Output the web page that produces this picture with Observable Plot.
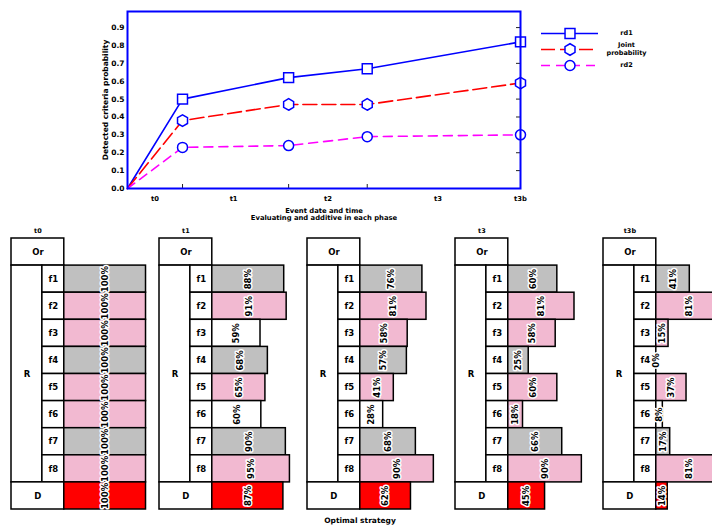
<!DOCTYPE html>
<html><head><meta charset="utf-8">
<script src="https://cdn.jsdelivr.net/npm/d3@7"></script>
<script src="https://cdn.jsdelivr.net/npm/@observablehq/plot@0.6"></script>
<style>
body{margin:0;background:#fff;overflow:hidden;font-family:"DejaVu Sans",sans-serif}
#wrap{position:relative;width:712px;height:530px;overflow:hidden;background:#fff}
#wrap>*{position:absolute}
#wrap>svg{max-width:none !important}
#caption{font:bold 7.5px "DejaVu Sans",sans-serif;left:0;width:720px;text-align:center;top:516px}
</style></head><body><div id="wrap"></div>
<script>
// ---------- top chart data ----------
const stepX   = [0, 14, 41, 61, 100];
const rd1     = [0, 0.50, 0.62, 0.67, 0.82];
const joint   = [0, 0.38, 0.47, 0.47, 0.59];
const rd2     = [0, 0.23, 0.24, 0.29, 0.30];
const seriesNames = ["rd1", "Joint\nprobability", "rd2"];
const xLabelPos = [7, 27, 51, 79, 100];
const xLabels   = ["t0", "t1", "t2", "t3", "t3b"];
const yTicks    = [0, 0.1, 0.2, 0.3, 0.4, 0.5, 0.6, 0.7, 0.8, 0.9];
const yTitle = "Detected criteria probability";
const xTitle = "Event date and time\nEvaluating and additive in each phase";

// ---------- bottom panels data ----------
const panels      = ["t0", "t1", "t2", "t3", "t3b"];
const panelTitles = ["t0", "t1", "", "t3", "t3b"];
const rows    = ["Or", "f1", "f2", "f3", "f4", "f5", "f6", "f7", "f8", "D"];
const barRows = ["f1", "f2", "f3", "f4", "f5", "f6", "f7", "f8", "D"];
const vals1 = [100, 100, 100, 100, 100, 100, 100, 100, 100];
const vals2 = [88, 91, 59, 68, 65, 60, 90, 95, 87];
const vals3 = [76, 81, 58, 57, 41, 28, 68, 90, 62];
const vals4 = [60, 81, 58, 25, 60, 18, 66, 90, 45];
const vals5 = [41, 81, 15, 0, 37, 8, 17, 81, 14];
const kind1 = ["g","p","p","g","p","p","g","p","d"];
const kind2 = ["g","p","w","g","p","w","g","p","d"];
const kind3 = ["g","p","p","g","p","w","g","p","d"];
const kind4 = ["g","p","p","g","p","p","g","p","d"];
const kind5 = ["g","p","p","g","p","w","g","p","d"];
const captionText = "Optimal strategy";

const wrap = document.getElementById("wrap");
const BLUE = "#0000ff";

// ---------- top chart ----------
const series = [
  {name: seriesNames[0], values: rd1,   stroke: BLUE,      dash: null,  symbol: "square",  r: 5.6},
  {name: seriesNames[1], values: joint, stroke: "#ff0000", dash: "14,5", symbol: "hexagon", r: 5},
  {name: seriesNames[2], values: rd2,   stroke: "#ff00ff", dash: "9,6",  symbol: "circle",  r: 5}
];
const pts = s => s.values.map((v, i) => ({x: stepX[i], v}));

const topChart = Plot.plot({
  width: 712, height: 225,
  marginLeft: 127, marginRight: 192, marginTop: 11, marginBottom: 37,
  x: {domain: [0, 100], axis: null},
  y: {domain: [0, 0.99], axis: null},
  style: {fontFamily: "DejaVu Sans", fontSize: "7px", fontWeight: "bold", background: "white"},
  marks: [
    Plot.axisY(yTicks, {anchor: "left", tickSize: 0, tickPadding: 3, tickFormat: d => d.toFixed(1),
      label: yTitle, labelAnchor: "center", labelOffset: 25, labelArrow: "none", fontSize: 7.5}),
    Plot.axisY(yTicks, {anchor: "right", tickSize: -5, tickFormat: () => "", label: null, stroke: "#222"}),
    Plot.axisX(stepX.slice(1, 4), {anchor: "bottom", tickSize: -4, tickFormat: () => "", label: null, stroke: "#222"}),
    Plot.axisX(xLabelPos, {anchor: "bottom", tickSize: 0, tickPadding: 8,
      tickFormat: d => xLabels[xLabelPos.indexOf(d)],
      label: xTitle, labelAnchor: "center", labelOffset: 31, labelArrow: "none", fontSize: 6.8}),
    ...series.map(s => Plot.line(pts(s), {x: "x", y: "v", stroke: s.stroke, strokeWidth: 1.6, strokeDasharray: s.dash})),
    ...series.map(s => Plot.dot(pts(s).filter(d => d.x > 0), {x: "x", y: "v", symbol: s.symbol, r: s.r,
      stroke: BLUE, fill: "white", strokeWidth: 1.5})),
    Plot.frame({stroke: BLUE, strokeWidth: 2})
  ]
});
topChart.style.left = "0px"; topChart.style.top = "0px";
wrap.appendChild(topChart);

// ---------- legend ----------
const legendChart = Plot.plot({
  width: 150, height: 60, marginLeft: 6, marginRight: 87, marginTop: 5, marginBottom: 5,
  x: {domain: [0, 1], axis: null},
  y: {type: "point", domain: seriesNames, range: [13, 45], padding: 0, axis: null},
  style: {fontFamily: "DejaVu Sans", fontSize: "6.5px", fontWeight: "bold", background: "transparent"},
  marks: [
    ...series.map(s => Plot.ruleY([s.name], {y: d => d, stroke: s.stroke, strokeWidth: 1.6, strokeDasharray: s.dash})),
    ...series.map(s => Plot.dot([s.name], {y: d => d, symbol: s.symbol, r: s.r, stroke: BLUE, fill: "white", strokeWidth: 1.5})),
    Plot.text(seriesNames, {y: d => d, text: d => d, frameAnchor: "right", dx: 28, dy: -1, textAnchor: "middle", lineHeight: 1.15})
  ]
});
legendChart.style.left = "535px"; legendChart.style.top = "20px";
wrap.appendChild(legendChart);

// ---------- bottom panels ----------
const allVals = [vals1, vals2, vals3, vals4, vals5];
const allKinds = [kind1, kind2, kind3, kind4, kind5];
const bars = [];
panels.forEach((p, k) => barRows.forEach((r, j) =>
  bars.push({panel: p, i: rows.indexOf(r), value: allVals[k][j], kind: allKinds[k][j]})));

// table-structure layout (in the x scale's % units)
const COL_L = -64.6, COL_F = -26.8;
const boxes = [
  {name: "Or", x1: COL_L, x2: 0, y1: 0, y2: 1},
  {name: "R", x1: COL_L, x2: COL_F, y1: 1, y2: 9},
  ...rows.slice(1, 9).map((r, j) => ({name: r, x1: COL_F, x2: 0, y1: j + 1, y2: j + 2})),
  {name: "D", x1: COL_L, x2: 0, y1: 9, y2: 10}
];
const titles = panels.map((p, k) => ({panel: p, title: panelTitles[k]}));

const bottomChart = Plot.plot({
  width: 752, height: 300,
  marginLeft: 9, marginRight: 0, marginTop: 13, marginBottom: 16,
  fx: {domain: panels, padding: 0, axis: null},
  x: {domain: [COL_L, 116.5], axis: null},
  y: {domain: [0, 10], range: [13, 284], axis: null},
  color: {domain: ["g", "p", "w", "d"], range: ["#c0c0c0", "#f2b9d1", "#ffffff", "#ff0000"]},
  style: {fontFamily: "DejaVu Sans", fontSize: "8.5px", fontWeight: "bold", background: "transparent"},
  marks: [
    Plot.rect(boxes, {x1: "x1", x2: "x2", y1: "y1", y2: "y2", fill: "white", stroke: "black", strokeWidth: 1.5}),
    Plot.text(boxes, {x: d => (d.x1 + d.x2) / 2, y: d => (d.y1 + d.y2) / 2, text: "name"}),
    Plot.rect(bars, {fx: "panel", x1: 0, x2: "value", y1: "i", y2: d => d.i + 1, fill: "kind",
      stroke: "black", strokeWidth: 1.5}),
    Plot.text(bars, {fx: "panel", x: d => d.value / 2, y: d => d.i + 0.5, text: d => d.value + "%",
      rotate: -90, fill: "black", stroke: "white", strokeWidth: 3, fontSize: 8.5}),
    Plot.text(titles, {fx: "panel", x: COL_L / 2, y: 0, dy: -8, text: "title", fontSize: 6.5})
  ]
});
bottomChart.style.left = "0px"; bottomChart.style.top = "225px";
bottomChart.style.maxWidth = "none";
wrap.appendChild(bottomChart);

const cap = document.createElement("div");
cap.id = "caption";
cap.textContent = captionText;
wrap.appendChild(cap);
</script>
</body></html>
